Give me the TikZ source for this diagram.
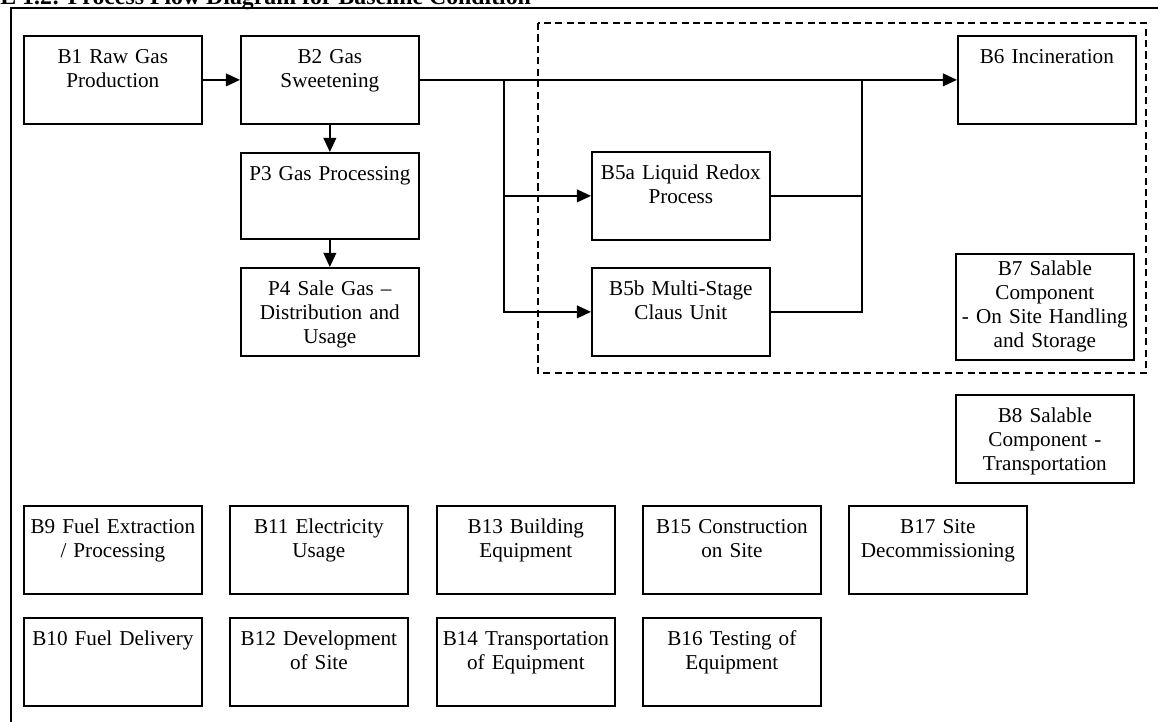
\documentclass[tikz,border=0pt]{standalone}
\usepackage{fontspec}
\setmainfont{Liberation Serif}
\usepackage{tikz}
\usetikzlibrary{arrows.meta}

\begin{document}
\begin{tikzpicture}[x=0.567pt,y=-0.567pt,font=\fontsize{12pt}{13.6pt}\selectfont]%
  \tikzstyle{boxb}=[draw,line width=1pt,anchor=north west,text width=99.9pt,align=center,
    inner xsep=0.5pt,inner ysep=4pt,text height=11.9pt,text depth=30pt]
  \tikzstyle{arrw}=[line width=1pt,-{Triangle[length=8pt,width=7.2pt]}]
  \tikzstyle{linw}=[line width=1pt]
  \useasboundingbox (0,0) rectangle (1158,721);
  \clip (0,0) rectangle (1158,721);
  \node[anchor=base west,inner sep=0pt,font=\bfseries\fontsize{13.5pt}{16pt}\selectfont] (ttl) at (0,5)
    {E 1.2: Process Flow Diagram for Baseline Condition};
  \draw[line width=0.8pt] (11,730) -- (11,8) -- (1170,8);
  \draw[line width=0.9pt,dash pattern=on 4pt off 2.5pt] (538,23) rectangle (1146,373);
  \node[boxb] (b1) at (23,35) {B1 Raw Gas\\Production};
  \node[boxb] (b2) at (240,35) {B2 Gas\\Sweetening};
  \node[boxb,text depth=28.9pt] (p3) at (240,152) {P3 Gas Processing};
  \node[boxb] (p4) at (240,267) {P4 Sale Gas --\\Distribution and\\Usage};
  \node[boxb] (b5a) at (591,151) {B5a Liquid Redox\\Process};
  \node[boxb] (b5b) at (591,267) {B5b Multi-Stage\\Claus Unit};
  \node[boxb] (b6) at (957,35) {B6 Incineration};
  \node[boxb,text height=8.5pt,text depth=43.6pt] (b7) at (955,253)
    {B7 Salable\\Component\\- On Site Handling\\and Storage};
  \node[boxb] (b8) at (955,394) {B8 Salable\\Component -\\Transportation};
  \node[boxb] (b9) at (23,505) {B9 Fuel Extraction\\/ Processing};
  \node[boxb] (b10) at (23,617) {B10 Fuel Delivery};
  \node[boxb] (b11) at (229,505) {B11 Electricity\\Usage};
  \node[boxb] (b12) at (229,617) {B12 Development\\of Site};
  \node[boxb] (b13) at (436,505) {B13 Building\\Equipment};
  \node[boxb] (b14) at (436,617) {B14 Transportation\\of Equipment};
  \node[boxb] (b15) at (642,505) {B15 Construction\\on Site};
  \node[boxb] (b16) at (642,617) {B16 Testing of\\Equipment};
  \node[boxb] (b17) at (848,505) {B17 Site\\Decommissioning};
  \coordinate (jl) at (504,79);
  \coordinate (jr) at (862,79);
  \draw[arrw] (b1.east) -- (b2.west);
  \draw[arrw] (b2.east) -- (b6.west);
  \draw[arrw] (b2.south) -- (p3.north);
  \draw[arrw] (p3.south) -- (p4.north);
  \draw[arrw] (jl) |- (b5a.west);
  \draw[arrw] (jl) |- (b5b.west);
  \draw[linw] (b5a.east) -| (jr);
  \draw[linw] (b5b.east) -| (jr);
\end{tikzpicture}
\end{document}
